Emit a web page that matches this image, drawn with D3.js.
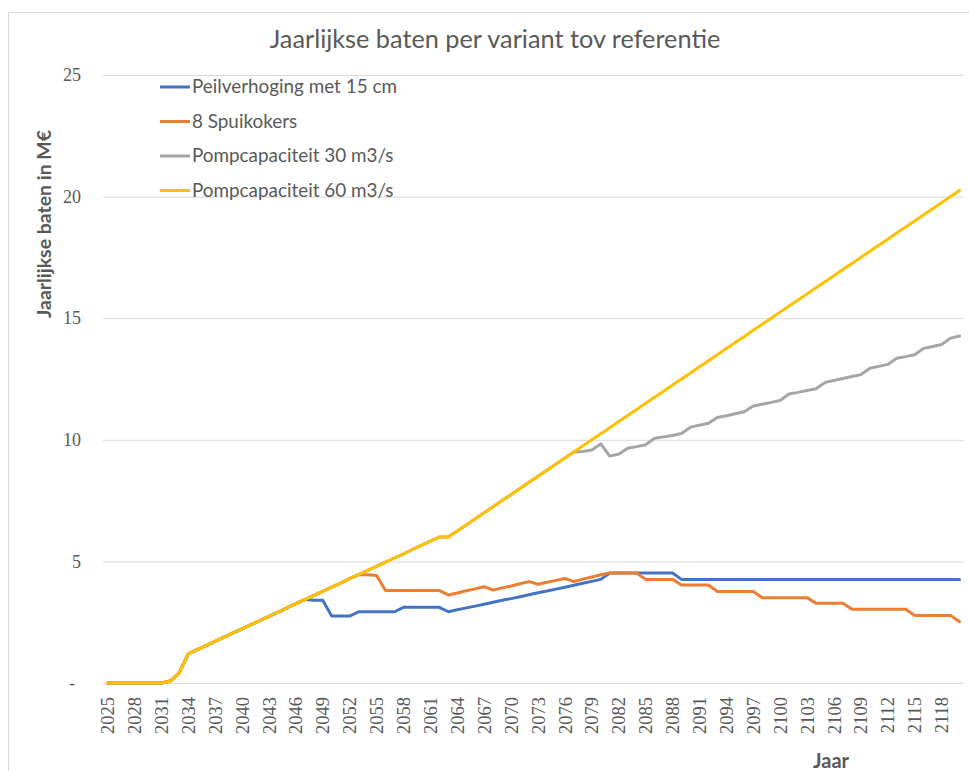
<!DOCTYPE html>
<html>
<head>
<meta charset="utf-8">
<script src="https://cdn.jsdelivr.net/npm/d3@7"></script>
<style>
  html, body { margin: 0; padding: 0; background: #ffffff; }
  svg { display: block; }
</style>
</head>
<body>
<svg id="chart" width="969" height="771"></svg>
<script>
// ---------- DATA ----------
const years = [
  2025,2026,2027,2028,2029,2030,2031,2032,2033,2034,2035,2036,2037,2038,2039,2040,
  2041,2042,2043,2044,2045,2046,2047,2048,2049,2050,2051,2052,2053,2054,2055,2056,
  2057,2058,2059,2060,2061,2062,2063,2064,2065,2066,2067,2068,2069,2070,2071,2072,
  2073,2074,2075,2076,2077,2078,2079,2080,2081,2082,2083,2084,2085,2086,2087,2088,
  2089,2090,2091,2092,2093,2094,2095,2096,2097,2098,2099,2100,2101,2102,2103,2104,
  2105,2106,2107,2108,2109,2110,2111,2112,2113,2114,2115,2116,2117,2118,2119,2120
];

const xTickLabels = [
  2025,2028,2031,2034,2037,2040,2043,2046,2049,2052,2055,2058,2061,2064,2067,2070,
  2073,2076,2079,2082,2085,2088,2091,2094,2097,2100,2103,2106,2109,2112,2115,2118
];

const yTickValues = [0, 5, 10, 15, 20, 25];

const seriesNames = [
  "Peilverhoging met 15 cm",
  "8 Spuikokers",
  "Pompcapaciteit 30 m3/s",
  "Pompcapaciteit 60 m3/s"
];

const peilverhoging = [
  0,0,0,0,0,0,0,0.08,0.42,1.20,1.37,1.54,1.71,1.89,2.06,2.23,
  2.40,2.57,2.74,2.91,3.09,3.26,3.43,3.40,3.40,2.75,2.75,2.75,2.93,2.93,2.93,2.93,
  2.93,3.11,3.11,3.11,3.11,3.11,2.93,3.01,3.09,3.16,3.24,3.32,3.40,3.47,3.55,3.63,
  3.71,3.78,3.86,3.94,4.02,4.10,4.18,4.26,4.52,4.52,4.52,4.52,4.52,4.52,4.52,4.52,
  4.26,4.26,4.26,4.26,4.26,4.26,4.26,4.26,4.26,4.26,4.26,4.26,4.26,4.26,4.26,4.26,
  4.26,4.26,4.26,4.26,4.26,4.26,4.26,4.26,4.26,4.26,4.26,4.26,4.26,4.26,4.26,4.26
];

const spuikokers = [
  0,0,0,0,0,0,0,0.08,0.42,1.20,1.37,1.54,1.71,1.89,2.06,2.23,
  2.40,2.57,2.74,2.91,3.09,3.26,3.43,3.60,3.77,3.94,4.11,4.29,4.46,4.45,4.42,3.80,
  3.80,3.80,3.80,3.80,3.80,3.80,3.62,3.70,3.79,3.87,3.96,3.82,3.91,3.99,4.08,4.17,
  4.06,4.14,4.22,4.30,4.17,4.27,4.36,4.45,4.52,4.52,4.52,4.52,4.26,4.26,4.26,4.26,
  4.03,4.03,4.03,4.03,3.76,3.76,3.76,3.76,3.76,3.51,3.51,3.51,3.51,3.51,3.51,3.28,
  3.28,3.28,3.28,3.03,3.03,3.03,3.03,3.03,3.03,3.03,2.78,2.78,2.78,2.78,2.78,2.52
];

const pomp30 = [
  0,0,0,0,0,0,0,0.08,0.42,1.20,1.37,1.54,1.71,1.89,2.06,2.23,
  2.40,2.57,2.74,2.91,3.09,3.26,3.43,3.60,3.77,3.94,4.11,4.29,4.46,4.63,4.80,4.97,
  5.14,5.31,5.49,5.66,5.83,6.00,6.00,6.25,6.50,6.75,7.00,7.25,7.50,7.75,8.00,8.25,
  8.50,8.75,9.00,9.25,9.50,9.52,9.58,9.83,9.33,9.41,9.65,9.72,9.80,10.06,10.12,10.18,
  10.26,10.52,10.60,10.68,10.92,10.99,11.07,11.15,11.39,11.46,11.54,11.62,11.88,11.95,12.03,12.10,
  12.36,12.44,12.52,12.60,12.68,12.94,13.02,13.10,13.35,13.42,13.50,13.76,13.84,13.92,14.18,14.27
];

const pomp60 = [
  0,0,0,0,0,0,0,0.08,0.42,1.20,1.37,1.54,1.71,1.89,2.06,2.23,
  2.40,2.57,2.74,2.91,3.09,3.26,3.43,3.60,3.77,3.94,4.11,4.29,4.46,4.63,4.80,4.97,
  5.14,5.31,5.49,5.66,5.83,6.00,6.00,6.25,6.50,6.75,7.00,7.25,7.50,7.75,8.00,8.25,
  8.50,8.75,9.00,9.25,9.50,9.75,10.00,10.25,10.50,10.75,11.00,11.25,11.50,11.75,12.00,12.25,
  12.50,12.75,13.00,13.25,13.50,13.75,14.00,14.25,14.50,14.75,15.00,15.25,15.50,15.75,16.00,16.25,
  16.50,16.75,17.00,17.25,17.50,17.75,18.00,18.25,18.50,18.75,19.00,19.25,19.50,19.75,20.00,20.25
];

const seriesColors = ["#4472C4", "#ED7D31", "#A5A5A5", "#FFC000"];
const seriesValues = [peilverhoging, spuikokers, pomp30, pomp60];

// ---------- LAYOUT ----------
const svg = d3.select("#chart");
const W = 969, H = 771;
const plot = { left: 103, right: 964, top: 75, bottom: 683 };
const textColor = "#595959";
const sansFont = "Lato, 'Open Sans', 'Liberation Sans', sans-serif";
const serifFont = "'Liberation Serif', 'DejaVu Serif', serif";

// chart area border
svg.append("rect")
  .attr("x", 8.5).attr("y", 12.5)
  .attr("width", W + 20).attr("height", H + 20)
  .attr("fill", "none").attr("stroke", "#d9d9d9").attr("stroke-width", 1);

const x = d3.scalePoint().domain(years).range([plot.left, plot.right]).padding(0.5);
const y = d3.scaleLinear().domain([0, 25]).range([plot.bottom, plot.top]);

// helper to fit text to a target width
function fitText(sel, targetWidth, baseSize) {
  sel.style("font-size", baseSize + "px");
  const w = sel.node().getComputedTextLength();
  if (w > 0) sel.style("font-size", (baseSize * targetWidth / w) + "px");
  return sel;
}

// gridlines
const yAxisGrid = d3.axisLeft(y)
  .tickValues(yTickValues)
  .tickSize(-(plot.right - plot.left))
  .tickFormat("");
const gGrid = svg.append("g")
  .attr("transform", `translate(${plot.left},0)`)
  .call(yAxisGrid);
gGrid.select(".domain").remove();
gGrid.selectAll(".tick line").attr("stroke", "#d9d9d9").attr("stroke-width", 1);

// y tick labels
const yAxis = d3.axisLeft(y)
  .tickValues(yTickValues)
  .tickSize(0)
  .tickPadding(0)
  .tickFormat(d => d === 0 ? "-" : String(d));
const gY = svg.append("g")
  .attr("transform", `translate(81,0)`)
  .call(yAxis);
gY.select(".domain").remove();
gY.selectAll(".tick text")
  .attr("fill", textColor)
  .style("font-family", serifFont)
  .style("font-size", "18px")
  .attr("x", d => d === 0 ? -6 : 0);

// x axis labels
const xAxis = d3.axisBottom(x)
  .tickValues(xTickLabels)
  .tickSize(0)
  .tickPadding(0);
const gX = svg.append("g")
  .attr("transform", `translate(0,${plot.bottom})`)
  .call(xAxis);
gX.select(".domain").remove();
gX.selectAll(".tick text")
  .attr("fill", textColor)
  .style("font-family", serifFont)
  .style("font-size", "18.5px")
  .attr("text-anchor", "end")
  .attr("transform", "rotate(-90)")
  .attr("x", -14)
  .attr("y", 0)
  .attr("dy", "0.33em");

// lines
const line = d3.line()
  .x((d, i) => x(years[i]))
  .y(d => y(d));

seriesValues.forEach((vals, k) => {
  svg.append("path")
    .datum(vals)
    .attr("fill", "none")
    .attr("stroke", seriesColors[k])
    .attr("stroke-width", 3)
    .attr("stroke-linejoin", "round")
    .attr("stroke-linecap", "round")
    .attr("d", line);
});

// title
const title = svg.append("text")
  .attr("x", 495).attr("y", 48)
  .attr("text-anchor", "middle")
  .attr("fill", textColor)
  .style("font-family", sansFont)
  .text("Jaarlijkse baten per variant tov referentie");
fitText(title, 451, 20);

// legend
const legendY0 = 87, legendStep = 34.5;
seriesNames.forEach((name, k) => {
  const ly = legendY0 + k * legendStep;
  svg.append("line")
    .attr("x1", 160).attr("x2", 190)
    .attr("y1", ly).attr("y2", ly)
    .attr("stroke", seriesColors[k]).attr("stroke-width", 3);
  const t = svg.append("text")
    .attr("x", 192).attr("y", ly + 6)
    .attr("fill", textColor)
    .style("font-family", sansFont)
    .text(name);
  t.style("font-size", "17px");
});
// scale legend text size by first entry width
(function () {
  const texts = svg.selectAll("text").filter(function () {
    return seriesNames.includes(d3.select(this).text());
  });
  const first = texts.filter(function () { return d3.select(this).text() === seriesNames[0]; });
  const w = first.node().getComputedTextLength();
  const fs = 17 * 205 / w;
  texts.style("font-size", fs + "px");
})();

// y axis title
const yTitle = svg.append("text")
  .attr("transform", "translate(51,224) rotate(-90)")
  .attr("text-anchor", "middle")
  .attr("fill", textColor)
  .style("font-family", sansFont)
  .style("font-weight", "bold")
  .text("Jaarlijkse baten in M€");
fitText(yTitle, 188, 16);

// x axis title
const xTitle = svg.append("text")
  .attr("x", 831).attr("y", 768)
  .attr("text-anchor", "middle")
  .attr("fill", textColor)
  .style("font-family", sansFont)
  .style("font-weight", "bold")
  .text("Jaar");
fitText(xTitle, 36, 16);
</script>
</body>
</html>
